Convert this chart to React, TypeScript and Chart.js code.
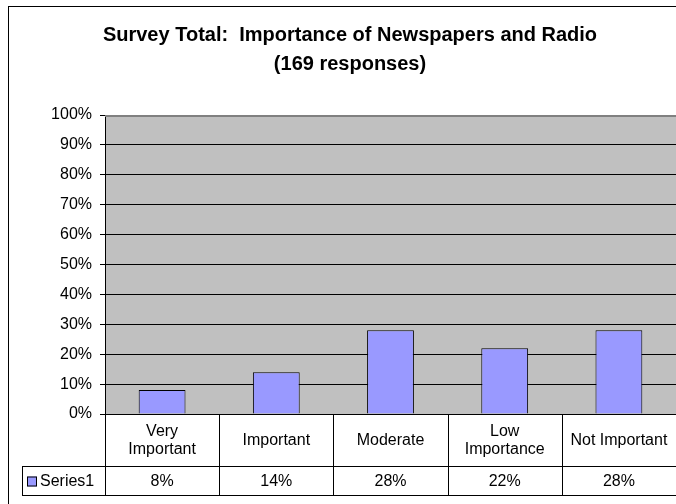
import React, { useEffect, useRef } from "react";
import { Chart, registerables } from "chart.js";

Chart.register(...registerables);

const titleLines = ["Survey Total:  Importance of Newspapers and Radio", "(169 responses)"];
const categories: string[][] = [["Very", "Important"], ["Important"], ["Moderate"], ["Low", "Importance"], ["Not Important"]];
const seriesName = "Series1";
const values = [8, 14, 28, 22, 28];
const valueLabels = ["8%", "14%", "28%", "22%", "28%"];
const yMin = 0;
const yMax = 100;
const yStep = 10;

const FONT = "Arial, 'Liberation Sans', sans-serif";
const W = 676;
const H = 504;

const excelPlugin = {
  id: "excelLook",
  beforeDraw(chart: any) {
    const { ctx, chartArea: ca } = chart;
    ctx.save();
    ctx.fillStyle = "#ffffff";
    ctx.fillRect(0, 0, chart.width, chart.height);
    ctx.fillStyle = "#c0c0c0";
    ctx.fillRect(ca.left, ca.top, ca.right - ca.left, ca.bottom - ca.top);
    ctx.restore();
  },
  afterDraw(chart: any) {
    const { ctx, chartArea: ca } = chart;
    const xs = chart.scales.x;
    ctx.save();
    // outer frame
    ctx.strokeStyle = "#000";
    ctx.lineWidth = 1;
    ctx.strokeRect(8.5, 6.5, 720, 520);

    // title
    ctx.fillStyle = "#000";
    ctx.font = `bold 20px ${FONT}`;
    ctx.textAlign = "center";
    ctx.textBaseline = "alphabetic";
    titleLines.forEach((t, i) => ctx.fillText(t, 350, 41 + i * 29));

    // plot border top
    ctx.strokeStyle = "#808080";
    ctx.lineWidth = 2;
    ctx.beginPath();
    ctx.moveTo(ca.left, ca.top + 1);
    ctx.lineTo(ca.right, ca.top + 1);
    ctx.stroke();
    ctx.lineWidth = 1;

    // data table
    const n = categories.length;
    const bounds: number[] = [];
    for (let i = 0; i <= n; i++) {
      if (i === 0) bounds.push(ca.left);
      else if (i === n) bounds.push(ca.right);
      else bounds.push((xs.getPixelForValue(i - 1) + xs.getPixelForValue(i)) / 2);
    }
    const top = ca.bottom;
    const row1 = 466;
    const row2 = 495;
    const legendLeft = 22;
    ctx.strokeStyle = "#000";
    ctx.beginPath();
    ctx.moveTo(ca.left, top + 0.5);
    ctx.lineTo(ca.right, top + 0.5);
    for (let i = 0; i < n; i++) {
      const bx = Math.round(bounds[i]) + 0.5;
      ctx.moveTo(bx, top);
      ctx.lineTo(bx, row2);
    }
    ctx.moveTo(legendLeft, row1 + 0.5);
    ctx.lineTo(ca.right, row1 + 0.5);
    ctx.moveTo(legendLeft, row2 + 0.5);
    ctx.lineTo(ca.right, row2 + 0.5);
    ctx.moveTo(legendLeft + 0.5, row1);
    ctx.lineTo(legendLeft + 0.5, row2);
    ctx.stroke();

    ctx.font = `16px ${FONT}`;
    ctx.fillStyle = "#000";
    ctx.textAlign = "center";
    ctx.textBaseline = "middle";
    const midHead = (top + row1) / 2 + 1;
    const midRow = (row1 + row2) / 2 + 1;
    categories.forEach((lines, i) => {
      const cx = xs.getPixelForValue(i);
      const lh = 18;
      const y0 = midHead - ((lines.length - 1) * lh) / 2;
      lines.forEach((l, j) => ctx.fillText(l, cx, y0 + j * lh));
      ctx.fillText(valueLabels[i], cx, midRow);
    });

    // legend key
    ctx.fillStyle = "#9999ff";
    ctx.fillRect(27, midRow - 5, 10, 10);
    ctx.strokeStyle = "#000";
    ctx.strokeRect(27.5, midRow - 4.5, 9, 9);
    ctx.fillStyle = "#000";
    ctx.textAlign = "left";
    ctx.fillText(seriesName, 40, midRow);
    ctx.restore();
  },
};

export default function App() {
  const ref = useRef<HTMLCanvasElement>(null);
  useEffect(() => {
    const chart = new Chart(ref.current!, {
      type: "bar",
      data: {
        labels: categories.map((c) => c.join(" ")),
        datasets: [
          {
            label: seriesName,
            data: values,
            backgroundColor: "#9999ff",
            borderColor: "#000",
            borderWidth: 1,
            categoryPercentage: 1,
            barPercentage: 0.41,
          },
        ],
      },
      options: {
        animation: false,
        responsive: false,
        devicePixelRatio: 1,
        layout: { padding: { top: 115, bottom: 90, left: 0, right: 0 } },
        plugins: { legend: { display: false }, title: { display: false }, tooltip: { enabled: false } },
        scales: {
          x: { display: false },
          y: {
            min: yMin,
            max: yMax,
            afterFit: (s: any) => {
              s.width = 105;
            },
            ticks: {
              stepSize: yStep,
              padding: 8,
              color: "#000",
              font: { family: FONT, size: 16 },
              callback: (v: any) => `${v}%`,
            },
            grid: { color: "#000", tickColor: "#000", tickLength: 5, lineWidth: 1 },
            border: { display: true, color: "#000" },
          },
        },
      },
      plugins: [excelPlugin],
    });
    return () => chart.destroy();
  }, []);
  return (
    <div style={{ position: "fixed", left: 0, top: 0, width: W, height: H }}>
      <canvas ref={ref} width={W} height={H} style={{ width: W, height: H, display: "block" }} />
    </div>
  );
}
